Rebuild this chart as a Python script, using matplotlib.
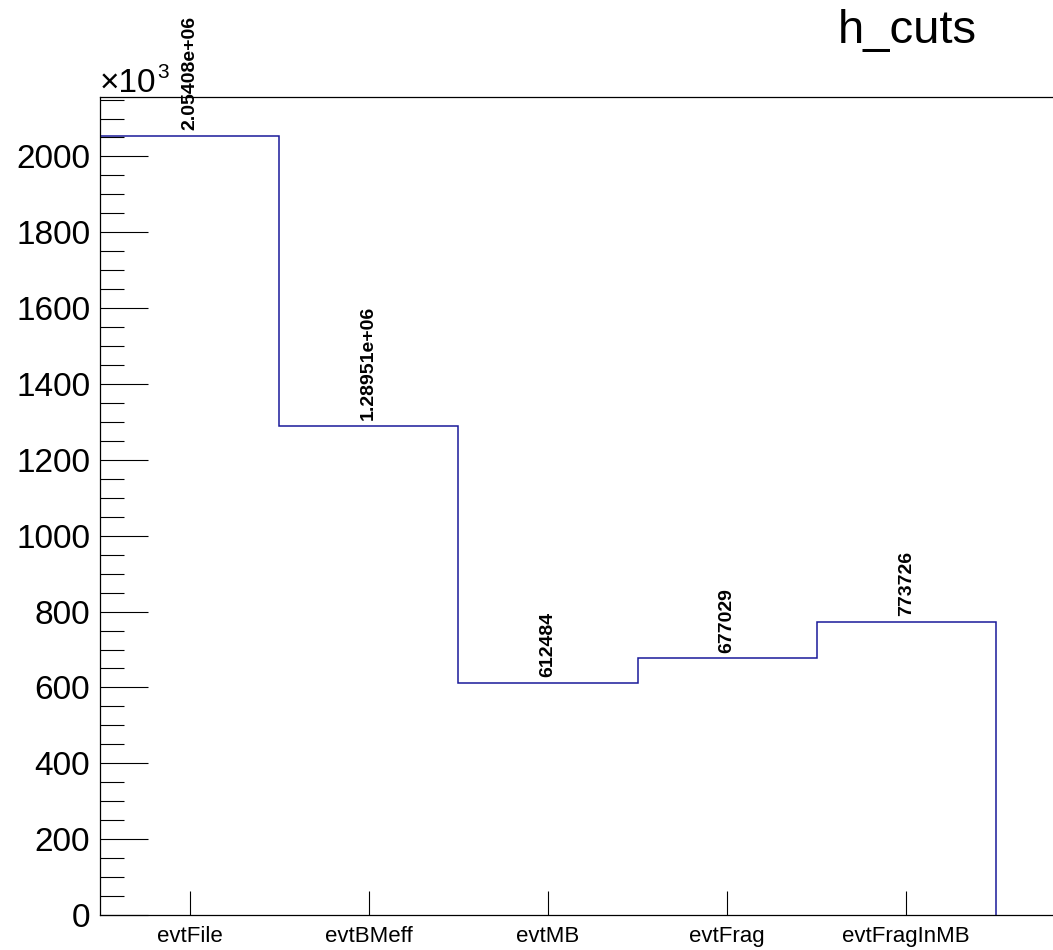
import matplotlib
matplotlib.use("Agg")
import matplotlib.pyplot as plt
import numpy as np

# ── data ──────────────────────────────────────────────────────────────────────
cut_names = ["evtFile", "evtBMeff", "evtMB", "evtFrag", "evtFragInMB"]
counts = [2054080, 1289510, 612484, 677029, 773726]
count_labels = ["2.05408e+06", "1.28951e+06", "612484", "677029", "773726"]
n_bins = 6   # axis holds one more (empty) bin than is filled

LINE = "#1a1a9a"
FONT = "Liberation Sans"
plt.rcParams["font.family"] = [FONT, "DejaVu Sans"]

fig = plt.figure(figsize=(10.53, 9.5), dpi=100)
# frame runs past the right edge of the canvas, as in the original
ax = fig.add_axes([100 / 1053, 35 / 950, 1075 / 1053, 818 / 950])

vals_k = np.array(counts) / 1000.0
edges = np.arange(len(counts) + 1)
ax.stairs(vals_k, edges, baseline=0, color=LINE, linewidth=1.1, zorder=1)

ax.set_xlim(0, n_bins)
ax.set_ylim(0, 1.05 * max(vals_k))

# value labels over each bin
for i, lab in enumerate(count_labels):
    ax.annotate(lab, (i + 0.5, vals_k[i]), xytext=(0, 4), textcoords="offset points",
                rotation=90, ha="center", va="bottom", fontsize=14,
                fontweight="bold", color="black")

# y axis — ROOT style ticks
ax.set_yticks(np.arange(0, 2001, 200))
ax.set_yticks(np.arange(0, 2151, 50), minor=True)
ax.tick_params(axis="y", which="major", direction="in", length=34.5, width=0.8,
               labelsize=24, pad=7, right=False)
ax.tick_params(axis="y", which="minor", direction="in", length=17.3, width=0.8,
               right=False)

# x axis — labels at bin centres
ax.set_xticks(np.arange(len(cut_names)) + 0.5)
ax.set_xticklabels(cut_names)
ax.tick_params(axis="x", which="major", direction="in", length=17.3, width=0.8,
               labelsize=16, pad=8, top=False)
ax.tick_params(axis="x", which="minor", bottom=False, top=False)

for side in ["left", "bottom", "top", "right"]:
    ax.spines[side].set_linewidth(0.9)
    ax.spines[side].set_zorder(3)

# exponent marker
fig.text(100 / 1053, 1 - 92 / 950, "\u00d710", fontsize=24, va="baseline", ha="left")
fig.text(157 / 1053, 1 - 78 / 950, "3", fontsize=15, va="baseline", ha="left")

# histogram name
fig.text(838 / 1053, 1 - 43 / 950, "h_cuts", fontsize=34, va="baseline", ha="left")

fig.savefig("out.png", dpi=100)
